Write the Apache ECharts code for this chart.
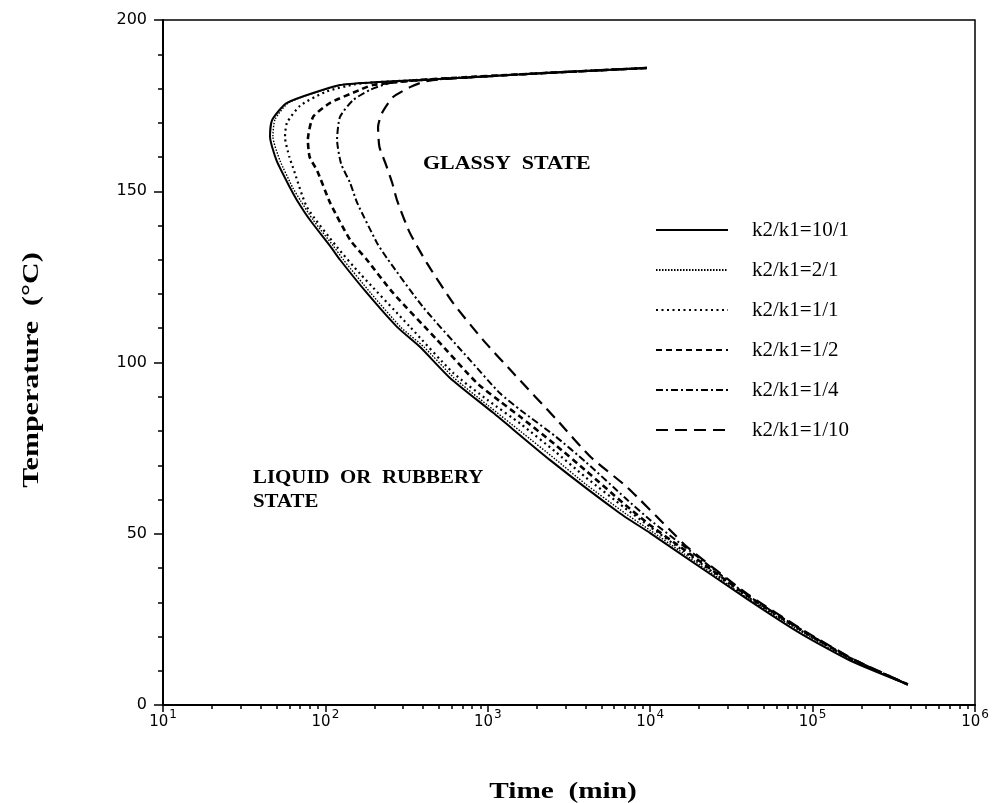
<!DOCTYPE html>
<html>
<head>
<meta charset="utf-8">
<title>Temperature vs Time</title>
<script src="https://cdn.jsdelivr.net/npm/echarts@6/dist/echarts.min.js"></script>
<style>
  html, body { margin: 0; padding: 0; background: #fff; }
  #main { width: 1003px; height: 803px; }
</style>
</head>
<body>
<div id="main"></div>
<script>
// legend names
var ratioNames = ['k2/k1=10/1', 'k2/k1=2/1', 'k2/k1=1/1', 'k2/k1=1/2', 'k2/k1=1/4', 'k2/k1=1/10'];

// [time (min), temperature (°C)], following each curve
var ratio10_1 = [[9550,186],[2000,184.4],[383,182.5],[200,181.8],[123,181],[58,175.8],[47,170.8],[45.6,166],[50,159],[60.6,151],
  [66.8,147.4],[80.4,141.6],[107,134],[123,130],[180,120.3],[276,110.4],[383,104.5],[585,95.5],[1080,85.3],[2420,71.5],
  [6500,56],[10000,50.2],[15000,44.5],[39400,31],[83600,21],[170000,13],[386000,6]];
var ratio2_1 = [[9550,186],[2000,184.4],[383,182.5],[200,181.8],[125,181],[60,176],[49,171],[47.5,166],[52.5,159],[63,151],
  [70,147.4],[84,141.6],[112,134],[129,130],[190,120.3],[290,110.4],[405,104.5],[620,95.5],[1000,87.5],[1600,79.8],
  [2600,71.8],[4000,64.5],[7000,56],[10000,51],[16000,44.3],[40000,31.1],[90000,20.7],[180000,12.8],[386000,6]];
var ratio1_1 = [[9550,186],[2000,184.4],[383,182.5],[200,181.8],[150,181.2],[100,179],[70,175],[58,170],[56.4,165.8],[60,160],
  [63.1,157],[77,145.4],[118,133.7],[163,126],[332,110.4],[611,97],[1000,89],[1600,82],[2600,74],[4000,66.5],
  [7000,57.5],[10000,52],[16000,45],[40000,31.5],[90000,21],[180000,13],[386000,6]];
var ratio1_2 = [[9550,186],[2000,184.4],[383,182.5],[196,181],[163,179.6],[107,175.8],[84,171.7],[78,165],[80,160],[89,156],
  [107,146.6],[142,135.8],[180,130],[261,120.3],[487,106.6],[858,94],[1200,88.5],[1600,84],[2600,76],[4000,68.5],
  [7000,58.5],[10000,52.5],[16000,45.5],[40000,31.8],[90000,21.2],[180000,13.1],[386000,6]];
var ratio1_4 = [[9550,186],[2000,184.4],[366,182.3],[250,181.6],[188,179.6],[148,176.6],[123,171.7],[118,165],[125,158],[142,152.4],
  [157,146.6],[208,134.9],[239,130.5],[399,116.2],[777,100.7],[1189,91],[1600,86],[2600,78.5],[4000,71],[7000,60.5],
  [10000,54],[16000,46.5],[40000,32],[90000,21.3],[180000,13.2],[386000,6]];
var ratio1_10 = [[9550,186],[2000,184.4],[487,182.6],[399,181.9],[332,180.4],[261,177.5],[223,172.8],[211,168.8],[215,163],[235,158],
  [258,152.4],[276,147.4],[330,138],[422,129],[611,117.4],[934,106.6],[1429,97],[2666,83.2],[4300,72.4],[7200,63.6],
  [13240,51.1],[17000,46],[40000,32.3],[90000,21.5],[180000,13.3],[386000,6]];

var seriesData = [ratio10_1, ratio2_1, ratio1_1, ratio1_2, ratio1_4, ratio1_10];
// line look of each curve
var lineStyles = [
  {width: 2, type: 'solid'},
  {width: 1.4, type: [1.5, 1.5]},
  {width: 2.2, type: [2, 3.5]},
  {width: 2.6, type: [6, 4]},
  {width: 2, type: [7, 3, 2, 3]},
  {width: 2.2, type: [12, 7]}
];

// minor ticks of the log axis: 2..9 in each decade
var minorTimeTicks = [];
for (var k = 1; k < 6; k++) {
  for (var m = 2; m < 10; m++) {
    minorTimeTicks.push(m * Math.pow(10, k));
  }
}

var serif = "'Liberation Serif', 'Times New Roman', serif";
var chart = echarts.init(document.getElementById('main'));

var series = [];
for (var i = 0; i < seriesData.length; i++) {
  series.push({
    name: ratioNames[i],
    type: 'line',
    xAxisIndex: 0,
    data: seriesData[i],
    symbol: 'none',
    smooth: 0.2,
    lineStyle: {color: '#000', width: lineStyles[i].width, type: lineStyles[i].type},
    // no marker in the legend, only the line
    itemStyle: {color: 'rgba(0,0,0,0)', borderWidth: 0}
  });
}

var option = {
  animation: false,
  backgroundColor: '#fff',
  grid: {left: 163, right: 28, top: 20, bottom: 98, show: true, borderColor: '#000', borderWidth: 1.5},
  legend: {
    orient: 'vertical',
    left: 650,
    top: 214,
    itemWidth: 72,
    itemHeight: 14,
    itemGap: 18,
    data: ratioNames,
    itemStyle: {opacity: 0},
    textStyle: {fontFamily: serif, fontSize: 21, color: '#000', lineHeight: 22, padding: [0, 0, 0, 19]}
  },
  xAxis: [{
    type: 'log',
    logBase: 10,
    min: 10,
    max: 1000000,
    position: 'bottom',
    axisLine: {lineStyle: {color: '#000', width: 2}},
    axisTick: {length: 7, lineStyle: {color: '#000', width: 1.5}},
    splitLine: {show: false},
    axisLabel: {
      margin: 4,
      color: '#000',
      formatter: function (v) {
        return '{b|10}{s|' + Math.round(Math.log10(v)) + '}';
      },
      rich: {
        b: {fontFamily: 'DejaVu Sans', fontSize: 15, color: '#000', padding: [6, 0, 0, 0], verticalAlign: 'bottom'},
        s: {fontFamily: 'DejaVu Sans', fontSize: 12, color: '#000', padding: [0, 0, 0, 1], verticalAlign: 'top'}
      }
    }
  }, {
    type: 'log',
    logBase: 10,
    min: 10,
    max: 1000000,
    position: 'bottom',
    axisLine: {show: false},
    axisLabel: {show: false},
    splitLine: {show: false},
    axisTick: {length: 4, customValues: minorTimeTicks, lineStyle: {color: '#000', width: 1.5}}
  }],
  yAxis: {
    type: 'value',
    min: 0,
    max: 200,
    interval: 50,
    axisLine: {show: true, lineStyle: {color: '#000', width: 2}},
    axisTick: {show: true, length: 9, lineStyle: {color: '#000', width: 1.5}},
    minorTick: {show: true, splitNumber: 5, length: 5, lineStyle: {color: '#000', width: 1.5}},
    splitLine: {show: false},
    axisLabel: {margin: 16, fontFamily: 'DejaVu Sans', fontSize: 16, color: '#000'}
  },
  graphic: [
    {type: 'text', x: 423, y: 164, scaleX: 1.22, style: {text: 'GLASSY  STATE', font: 'bold 18px ' + serif, fill: '#000', align: 'left', verticalAlign: 'middle'}},
    {type: 'text', x: 253, y: 478, scaleX: 1.1, style: {text: 'LIQUID  OR  RUBBERY', font: 'bold 19px ' + serif, fill: '#000', align: 'left', verticalAlign: 'middle'}},
    {type: 'text', x: 253, y: 502, scaleX: 1.1, style: {text: 'STATE', font: 'bold 19px ' + serif, fill: '#000', align: 'left', verticalAlign: 'middle'}},
    {type: 'text', x: 32, y: 370, rotation: Math.PI / 2, scaleX: 1.25, style: {text: 'Temperature  (°C)', font: 'bold 24px ' + serif, fill: '#000', align: 'center', verticalAlign: 'middle'}},
    {type: 'text', x: 563, y: 792, scaleX: 1.22, style: {text: 'Time  (min)', font: 'bold 24px ' + serif, fill: '#000', align: 'center', verticalAlign: 'middle'}}
  ],
  series: series
};

chart.setOption(option);
</script>
</body>
</html>
